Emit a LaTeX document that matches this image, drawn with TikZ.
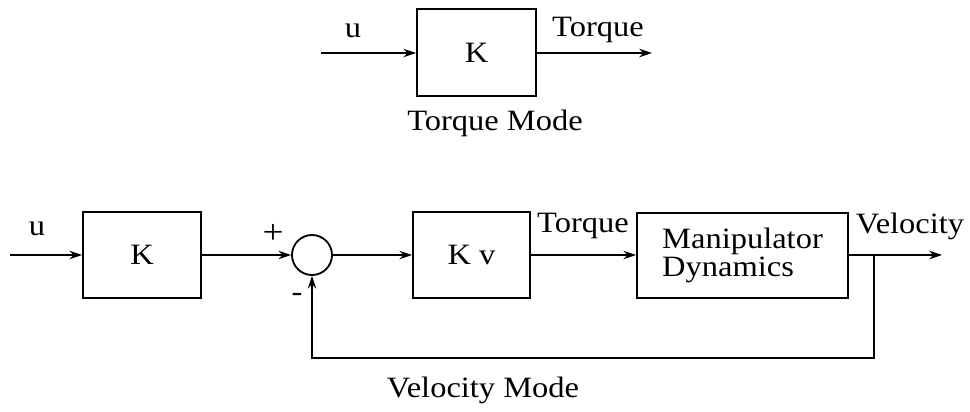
\documentclass[tikz,border=0pt]{standalone}
\usepackage{fontspec}
\setmainfont[FakeStretch=1.1]{Liberation Serif}
\usetikzlibrary{arrows.meta, positioning}

\begin{document}
\begin{tikzpicture}[
  x=0.025cm, y=-0.025cm,
  every node/.style={font=\fontsize{21}{24}\selectfont},
  block/.style={draw=black, line width=1.3pt, minimum width=2.95cm, minimum height=2.15cm, align=center, inner sep=2pt},
  sumnode/.style={draw=black, line width=1.3pt, circle, minimum size=1cm, inner sep=0pt},
  arrow/.style={-{Stealth[length=9pt, width=6pt]}, line width=1.3pt},
  caption/.style={font=\fontsize{21}{24}\selectfont}
]
\useasboundingbox (0,0) rectangle (970,412);

% Top: torque mode
\node[block, minimum width=2.975cm, minimum height=2.175cm] (tK) at (476.5,52.5) {K};
\coordinate (tin) at (321,53);
\coordinate (tout) at (652,53);
\draw[arrow] (tin) -- (tK.west |- tin);
\draw[arrow] (tK.east |- tout) -- (tout);
\node (tu) at (353,31) {u};
\node (ttorque) at (598,30) {Torque};
\node[caption] (tmode) at (495,123) {Torque Mode};

% Bottom: velocity mode
\node[block] (bK) at (142,255) {K};
\node[sumnode] (sum) at (312,255) {};
\node[block, minimum width=2.925cm] (kv) at (471.5,255) {K v};
\node[block, align=left, minimum width=5.275cm, minimum height=2.125cm] (dyn) at (742.5,255.5) {Manipulator\\[-4pt]Dynamics};
\coordinate (bin) at (10,255);
\coordinate (branch) at (874,255);
\coordinate (bout) at (942,255);
\coordinate (fb) at (874,358);

\draw[arrow] (bin) -- (bK.west);
\draw[arrow] (bK.east) -- (sum.west);
\draw[arrow] (sum.east) -- (kv.west);
\draw[arrow] (kv.east) -- (dyn.west |- kv.east);
\draw[arrow] (dyn.east |- branch) -- (bout);
\draw[arrow] (branch) -- (fb) -| (sum.south);

\node (bu) at (37,229) {u};
\node[font=\fontsize{24}{26}\selectfont] (plus) at (273,234) {+};
\node (minus) at (297,297) {-};
\node (btorque) at (583,226) {Torque};
\node (bvel) at (910,226) {Velocity};
\node[caption] (vmode) at (483,390) {Velocity Mode};

\end{tikzpicture}
\end{document}
